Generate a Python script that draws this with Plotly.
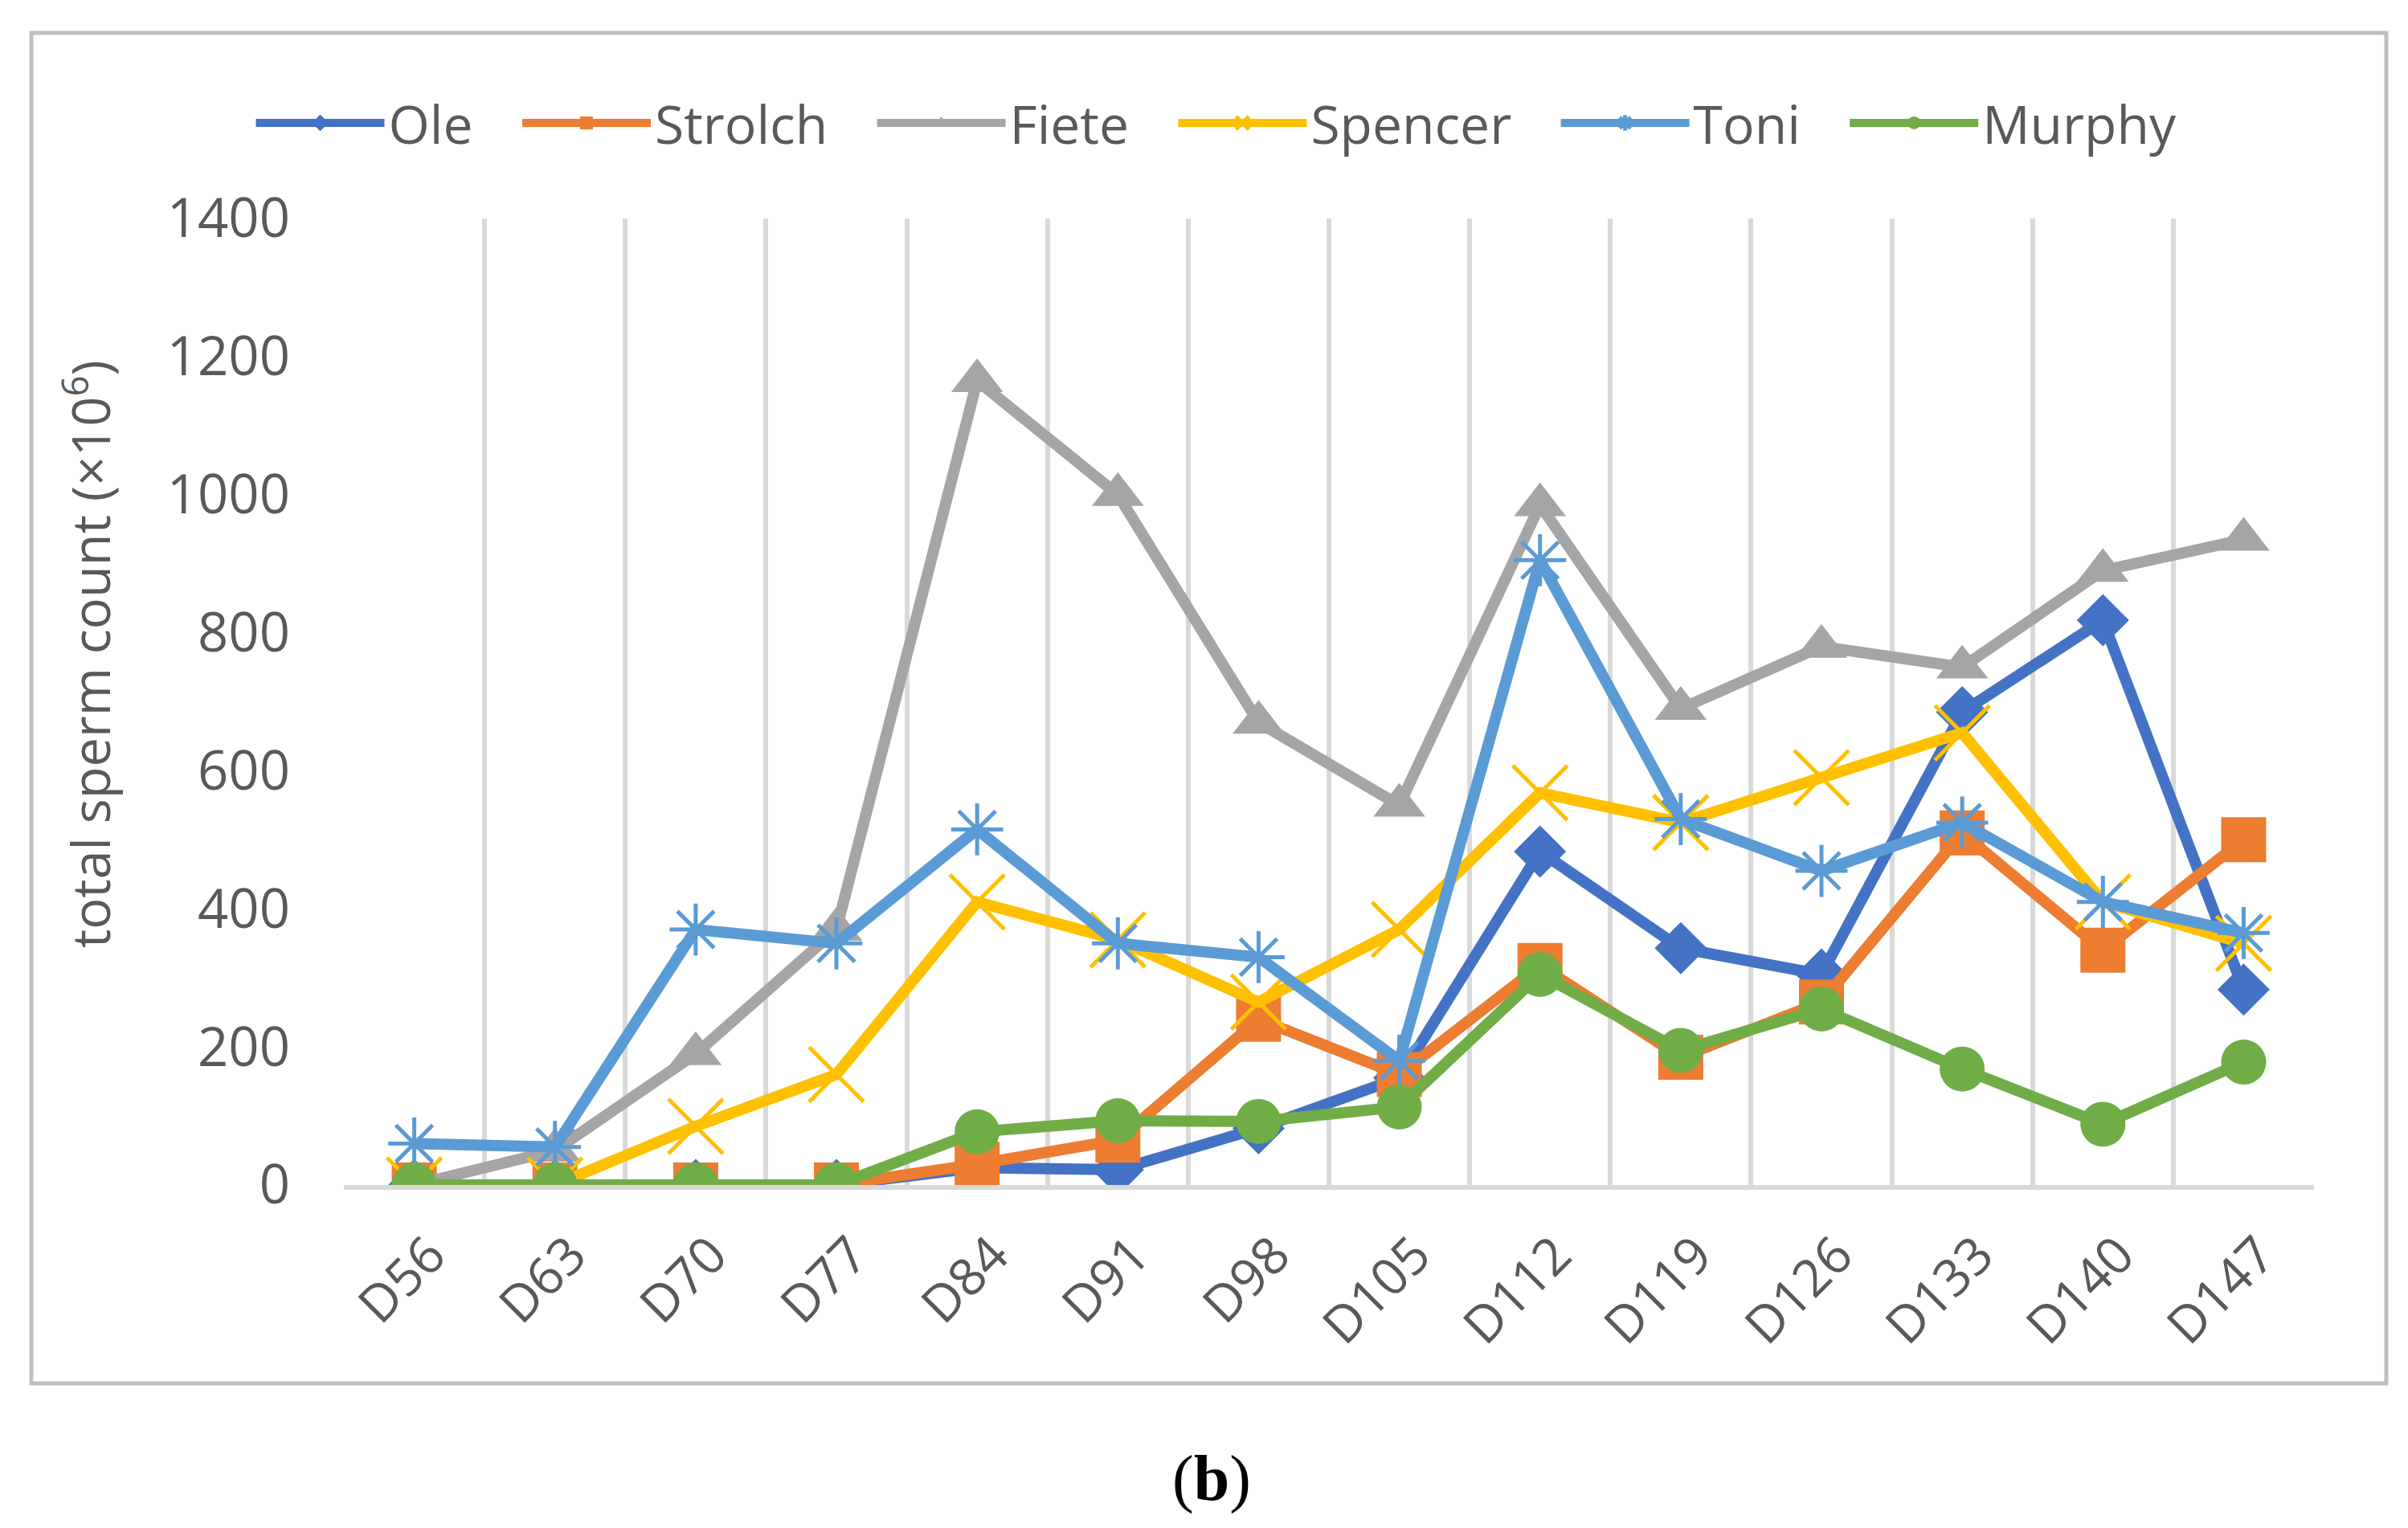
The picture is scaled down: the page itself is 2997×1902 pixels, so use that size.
import plotly.graph_objects as go

days = ["D56", "D63", "D70", "D77", "D84", "D91", "D98", "D105", "D112", "D119", "D126", "D133", "D140", "D147"]
ole = [0, 0, 0, 0, 25, 22, 82, 155, 483, 343, 305, 685, 818, 283]
strolch = [0, 0, 0, 0, 30, 65, 240, 160, 318, 185, 265, 510, 340, 500]
fiete = [0, 50, 190, 370, 1165, 1000, 670, 550, 985, 690, 780, 750, 890, 935]
spencer = [0, 0, 85, 160, 410, 355, 265, 370, 568, 525, 590, 655, 410, 350]
toni = [60, 55, 370, 350, 515, 350, 330, 180, 905, 530, 455, 525, 410, 365]
murphy = [0, 0, 0, 0, 77, 93, 92, 113, 305, 195, 255, 168, 88, 178]
y_ticks = [0, 200, 400, 600, 800, 1000, 1200, 1400]

W, H = 2997, 1902
L, R, T, B = 420, 2872, 264, 1467  # plot area in pixels


def px_x(p):
    return (p - L) / (R - L)


def px_y(p):
    return (B - p) / (B - T)


FONT = "Open Sans"
GREY = "#595959"
LW = 14
PAD = "\u00a0\u00a0\u00a0"

series = [
    ("Ole", ole, "#4472C4", "diamond", 50),
    ("Strolch", strolch, "#ED7D31", "square", 56),
    ("Fiete", fiete, "#A5A5A5", "triangle-up", 56),
    ("Spencer", spencer, "#FFC000", "x-thin", 68),
    ("Toni", toni, "#5B9BD5", "asterisk", 54),
    ("Murphy", murphy, "#70AD47", "circle", 56),
]

fig = go.Figure()
for i, (name, vals, col, sym, sz) in enumerate(series):
    thin = sym in ("x-thin", "asterisk")
    label = name + (PAD if i < len(series) - 1 else "")
    fig.add_trace(go.Scatter(
        x=days, y=vals, name=label, mode="lines+markers",
        line=dict(color=col, width=LW),
        marker=dict(symbol=sym, size=sz, color=col,
                    line=dict(color=col, width=5 if thin else 0)),
    ))

fig.update_layout(
    width=W, height=H,
    margin=dict(l=L, r=W - R, t=T, b=H - B, autoexpand=False),
    paper_bgcolor="white", plot_bgcolor="white",
    font=dict(family=FONT, color=GREY, size=64),
    showlegend=True,
    legend=dict(orientation="h", x=px_x(1506), xanchor="center", y=px_y(145), yanchor="middle",
                font=dict(size=66, color=GREY), itemwidth=160, traceorder="normal"),
    xaxis=dict(type="category", range=[-0.5, len(days) - 0.5], tickson="boundaries",
               showgrid=True, gridcolor="#D9D9D9", gridwidth=6,
               showline=True, linecolor="#D9D9D9", linewidth=6,
               ticks="", tickangle=-45, tickfont=dict(size=64, color=GREY),
               ticklabelstandoff=18, ticklabelshift=20, fixedrange=True, zeroline=False),
    yaxis=dict(range=[0, 1400], tickvals=y_ticks, showgrid=False, zeroline=False,
               showline=False, ticks="", tickfont=dict(size=67, color=GREY),
               ticklabelstandoff=66, fixedrange=True),
    shapes=[dict(type="rect", xref="paper", yref="paper",
                 x0=px_x(31), x1=px_x(2962), y0=px_y(1714), y1=px_y(33),
                 line=dict(color="#BFBFBF", width=5), fillcolor="rgba(0,0,0,0)", layer="below")],
    annotations=[
        dict(text="total sperm count (×10<sup>6</sup>)", xref="paper", yref="paper",
             x=px_x(100), y=px_y(806), textangle=-90, showarrow=False,
             font=dict(family=FONT, size=65, color=GREY), xanchor="center", yanchor="middle"),
        dict(text="(<b>b</b>)", xref="paper", yref="paper", x=px_x(1500), y=px_y(1832),
             showarrow=False, font=dict(family="Liberation Serif", size=80, color="black"),
             xanchor="center", yanchor="middle"),
    ],
)

fig.write_html("out.html")
